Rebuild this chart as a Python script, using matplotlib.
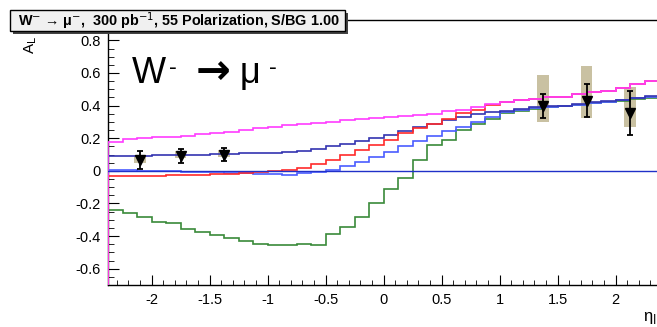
import numpy as np
import matplotlib
matplotlib.use("Agg")
import matplotlib.pyplot as plt
from matplotlib.patches import Rectangle

plt.rcParams['font.family'] = ['Liberation Sans', 'DejaVu Sans']

# bin edges in eta (38 bins of 0.125)
edges = np.linspace(-2.375, 2.375, 39)

# asymmetry curves, one value per bin
a_magenta = [0.175, 0.195, 0.20, 0.205, 0.21, 0.215, 0.225, 0.23, 0.24, 0.25,
             0.26, 0.27, 0.28, 0.285, 0.295, 0.30, 0.31, 0.32, 0.325, 0.33,
             0.335, 0.34, 0.35, 0.365, 0.375, 0.39, 0.41, 0.42, 0.435, 0.44,
             0.45, 0.455, 0.47, 0.485, 0.49, 0.51, 0.53, 0.55]
a_red = [-0.03, -0.03, -0.03, -0.03, -0.028, -0.027, -0.025, -0.022, -0.02, -0.015,
         -0.008, 0.0, 0.006, 0.02, 0.04, 0.065, 0.10, 0.13, 0.16, 0.19,
         0.23, 0.26, 0.29, 0.32, 0.355, 0.375, 0.405, 0.42, 0.435, 0.44,
         0.45, 0.455, 0.47, 0.485, 0.49, 0.51, 0.53, 0.55]
a_blue = [0.09, 0.09, 0.092, 0.095, 0.097, 0.10, 0.10, 0.103, 0.105, 0.108,
          0.11, 0.112, 0.115, 0.12, 0.135, 0.15, 0.165, 0.18, 0.20, 0.22,
          0.245, 0.27, 0.29, 0.31, 0.33, 0.35, 0.36, 0.37, 0.38, 0.39,
          0.395, 0.40, 0.41, 0.42, 0.43, 0.435, 0.445, 0.46]
a_lightblue = [0.005, 0.004, 0.002, 0.0, -0.002, -0.005, -0.008, -0.01, -0.013, -0.016,
               -0.019, -0.022, -0.025, -0.015, -0.005, 0.005, 0.03, 0.055, 0.085, 0.115,
               0.15, 0.18, 0.215, 0.245, 0.27, 0.30, 0.33, 0.36, 0.375, 0.385,
               0.39, 0.40, 0.405, 0.415, 0.425, 0.435, 0.445, 0.455]
a_green = [-0.239, -0.26, -0.284, -0.311, -0.321, -0.358, -0.372, -0.393, -0.413, -0.433,
           -0.448, -0.456, -0.452, -0.45, -0.454, -0.388, -0.342, -0.28, -0.196, -0.11,
           -0.045, 0.065, 0.16, 0.19, 0.25, 0.287, 0.32, 0.354, 0.37, 0.38,
           0.39, 0.40, 0.405, 0.415, 0.425, 0.43, 0.44, 0.445]

# projected data points
pt_x = [-2.1, -1.75, -1.375, 1.375, 1.75, 2.125]
pt_y = [0.065, 0.092, 0.10, 0.40, 0.43, 0.355]
pt_err = [0.055, 0.043, 0.038, 0.073, 0.10, 0.135]
sys_lo = [0.05, 0.08, 0.085, 0.30, 0.325, 0.27]
sys_hi = [0.095, 0.12, 0.125, 0.59, 0.64, 0.515]

W, H = 657, 327


def fx(px):
    return px / W


def fy(py):
    return 1 - py / H


def main():
    fig = plt.figure(figsize=(W / 100, H / 100), dpi=100)
    ax = fig.add_axes([fx(108), fy(285), (659 - 108) / W, (285 - 20) / H])

    # systematic boxes
    lo = np.array(sys_lo)
    hi = np.array(sys_hi)
    ax.bar(pt_x, hi - lo, bottom=lo, width=0.1, color='#c9c1a2', zorder=2)

    # histograms (ROOT style outline down to the frame bottom)
    ymin = -0.7
    ax.stairs(a_green, edges, baseline=ymin, color='#3a8a3a', lw=1.2, zorder=3)
    ax.stairs(a_lightblue, edges, baseline=ymin, color='#4a5cff', lw=1.2, zorder=3)
    ax.stairs(a_blue, edges, baseline=ymin, color='#3434b0', lw=1.2, zorder=3)
    ax.stairs(a_red, edges, baseline=ymin, color='#ff2a2a', lw=1.2, zorder=3)
    ax.stairs(a_magenta, edges, baseline=ymin, color='#ff3cff', lw=1.2, zorder=3)
    ax.axhline(0, color='#2030c8', lw=1.0, zorder=3)

    # data points
    ax.errorbar(pt_x, pt_y, yerr=pt_err, fmt='v', color='black', ms=7.5,
                elinewidth=1.3, capsize=2.5, capthick=1.3, zorder=4)

    ax.set_xlim(-2.375, 2.375)
    ax.set_ylim(ymin, 0.925)
    ax.set_xticks([-2, -1.5, -1, -0.5, 0, 0.5, 1, 1.5, 2])
    ax.set_xticklabels(['-2', '-1.5', '-1', '-0.5', '0', '0.5', '1', '1.5', '2'])
    ax.set_xticks(np.arange(-2.3, 2.4, 0.1), minor=True)
    ax.set_yticks([-0.6, -0.4, -0.2, 0, 0.2, 0.4, 0.6, 0.8])
    ax.set_yticklabels(['-0.6', '-0.4', '-0.2', '0', '0.2', '0.4', '0.6', '0.8'])
    ax.set_yticks(np.arange(-0.7, 0.92, 0.05), minor=True)
    ax.tick_params(which='both', direction='in', labelsize=10.5, top=False, right=False)
    ax.tick_params(axis='y', which='major', length=8, pad=5)
    ax.tick_params(axis='y', which='minor', length=4)
    ax.tick_params(axis='x', which='major', length=7, pad=6)
    ax.tick_params(axis='x', which='minor', length=3.5)
    for s in ax.spines.values():
        s.set_linewidth(1.0)

    # axis titles
    fig.text(fx(31), fy(36), r'A$_{\mathrm{L}}$', rotation=90, ha='center', va='top', fontsize=11)
    fig.text(0.999, fy(318), r'η$_{\mathrm{l}}$', ha='right', va='center', fontsize=12)

    # big label, built from pieces
    fig.text(fx(132), fy(83), 'W', fontsize=26, va='baseline')
    fig.text(fx(169), fy(57), '-', fontsize=17, va='top')
    fig.text(fx(196), fy(72), '→', fontsize=30, va='center', family='DejaVu Sans',
             fontweight='bold')
    fig.text(fx(240), fy(83), 'μ', fontsize=26, va='baseline')
    fig.text(fx(269), fy(57), '-', fontsize=17, va='top')

    # title box with shadow
    fig.add_artist(Rectangle((fx(13), fy(34)), 335 / W, 21 / H,
                             transform=fig.transFigure, facecolor='#444444', edgecolor='none'))
    fig.add_artist(Rectangle((fx(10), fy(31)), 335 / W, 21 / H,
                             transform=fig.transFigure, facecolor='#f0f0f0',
                             edgecolor='black', lw=1.0))
    fig.text(fx(18), fy(21), r'W$^{-}$ → μ$^{-}$,  300 pb$^{-1}$, 55 Polarization, S/BG 1.00',
             fontsize=10.4, fontweight='bold', va='center')

    fig.savefig('out.png', dpi=100)


if __name__ == '__main__':
    main()
